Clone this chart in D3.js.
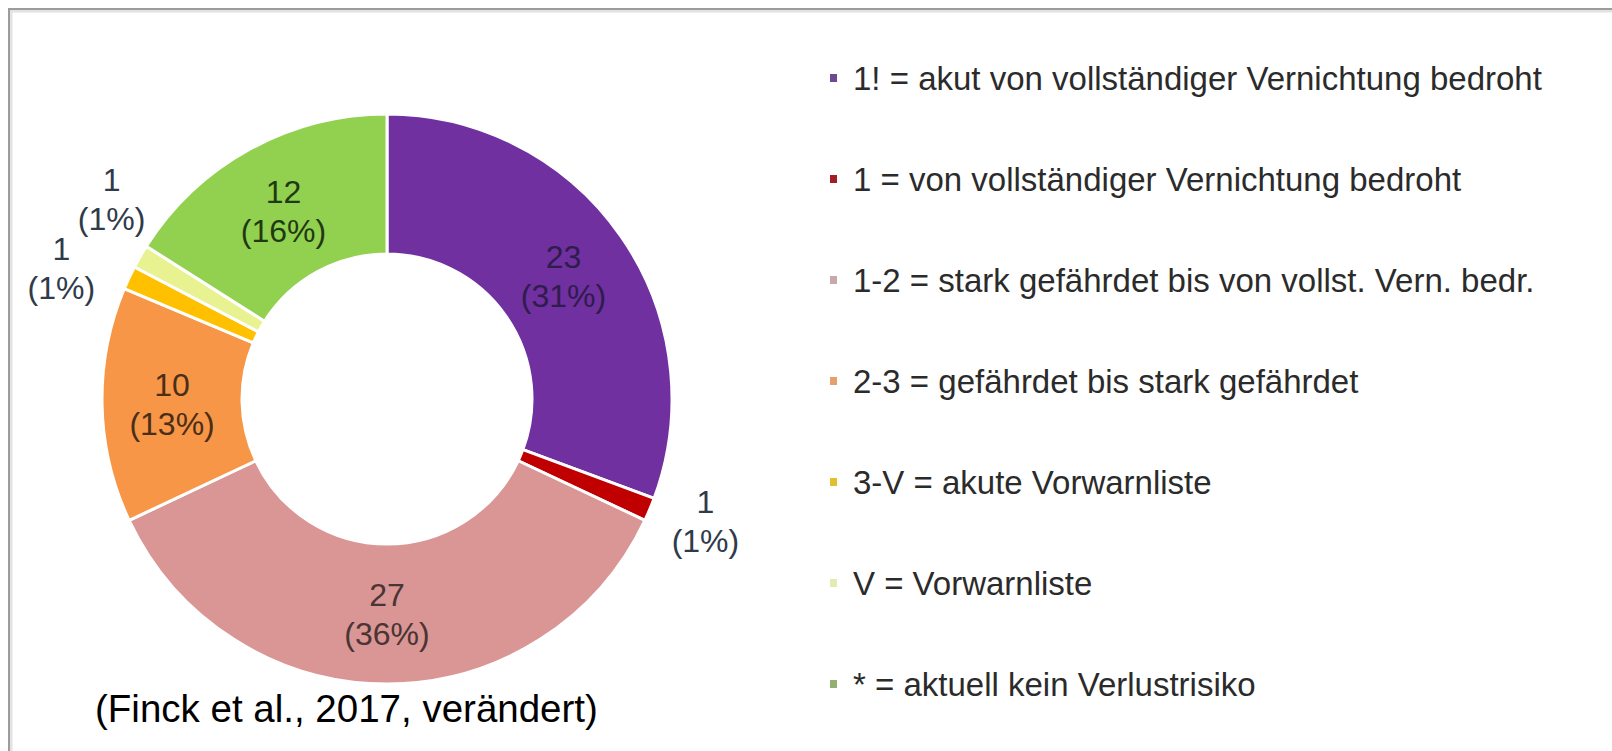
<!DOCTYPE html>
<html><head><meta charset="utf-8">
<script src="https://cdn.jsdelivr.net/npm/d3@7"></script>
<style>body{margin:0;background:#fff;} svg{display:block;}</style>
</head><body>
<svg id="chart" width="1612" height="751"></svg>
<script>
// ---- data ----
const categories = ["1!", "1", "1-2", "2-3", "3-V", "V", "*"];
const legendLabels = [
  "1! = akut von vollständiger Vernichtung bedroht",
  "1 = von vollständiger Vernichtung bedroht",
  "1-2 = stark gefährdet bis von vollst. Vern. bedr.",
  "2-3 = gefährdet bis stark gefährdet",
  "3-V = akute Vorwarnliste",
  "V = Vorwarnliste",
  "* = aktuell kein Verlustrisiko"
];
const values = [23, 1, 27, 10, 1, 1, 12];
const sourceNote = "(Finck et al., 2017, verändert)";

// ---- styles ----
const colors = ["#7030a0", "#c00000", "#d99694", "#f79646", "#ffc000", "#e9f290", "#92d050"];
const legendColors = ["#6a4a92", "#a41c24", "#c9a8aa", "#e8a06a", "#e0c030", "#e2ecb0", "#94b070"];
const labelColors = ["#2e1c4c", "#2f3b4a", "#4a3434", "#4a2e18", "#2f3b4a", "#2f3b4a", "#1f3a12"];
const outsideNudge = {1: [5, -10], 4: [-18, 14], 5: [19, -30]};

const W = 1612, H = 751;
const cx = 387, cy = 399, R = 285, r = 145, labelR = 340;

const svg = d3.select("#chart");
svg.append("rect").attr("width", W).attr("height", H).attr("fill", "#fff");

// frame
svg.append("rect").attr("x", 11).attr("y", 11).attr("width", 1700).attr("height", 900)
  .attr("fill", "none").attr("stroke", "#e2e2e2").attr("stroke-width", 3);
svg.append("rect").attr("x", 9).attr("y", 9).attr("width", 1700).attr("height", 900)
  .attr("fill", "none").attr("stroke", "#9c9c9c").attr("stroke-width", 2);

const total = d3.sum(values);
const pie = d3.pie().sort(null).value(d => d)(values);
const arc = d3.arc().innerRadius(r).outerRadius(R);
const outerArc = d3.arc().innerRadius(labelR).outerRadius(labelR);

const g = svg.append("g").attr("transform", `translate(${cx},${cy})`);
g.selectAll("path").data(pie).enter().append("path")
  .attr("d", arc)
  .attr("fill", (d, i) => colors[i])
  .attr("stroke", "#fff").attr("stroke-width", 3).attr("stroke-linejoin", "round");

const fmtPct = v => Math.round(v / total * 100) + "%";
pie.forEach((d, i) => {
  const inside = values[i] / total > 0.05;
  let [x, y] = inside ? arc.centroid(d) : outerArc.centroid(d);
  if (!inside && outsideNudge[i]) { x += outsideNudge[i][0]; y += outsideNudge[i][1]; }
  const t = g.append("text")
    .attr("text-anchor", "middle")
    .attr("font-family", "Liberation Sans, Arial, sans-serif")
    .attr("font-size", 32)
    .attr("fill", labelColors[i]);
  t.append("tspan").attr("x", x).attr("y", y - 8).text(values[i]);
  t.append("tspan").attr("x", x).attr("y", y + 31).text("(" + fmtPct(values[i]) + ")");
});

// legend
const lg = svg.append("g");
legendLabels.forEach((lab, i) => {
  const base = 90 + i * 101;
  lg.append("rect").attr("x", 830).attr("y", base - 16).attr("width", 7).attr("height", 8)
    .attr("fill", legendColors[i]);
  lg.append("text").attr("x", 853).attr("y", base)
    .attr("font-family", "Liberation Sans, Arial, sans-serif")
    .attr("font-size", 33).attr("fill", "#2b2b2b").text(lab);
});

// source note
svg.append("text").attr("x", 95).attr("y", 722)
  .attr("font-family", "Liberation Sans, Arial, sans-serif")
  .attr("font-size", 38.5).attr("fill", "#000").text(sourceNote);
</script>
</body></html>
